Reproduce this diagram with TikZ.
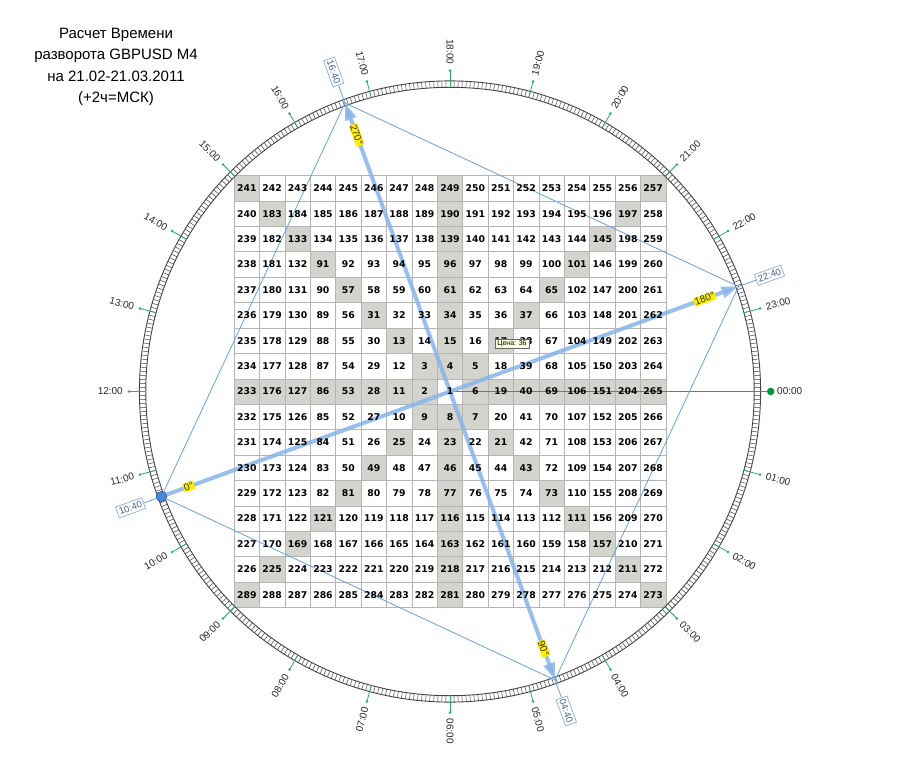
\documentclass[tikz,border=0pt]{standalone}
\usepackage{fontspec}
\setmainfont{Liberation Sans}
\newfontfamily\numfont{DejaVu Sans}
\usetikzlibrary{arrows.meta}
\definecolor{cellgray}{RGB}{212,212,206}
\definecolor{gridline}{RGB}{180,180,180}
\definecolor{bandcol}{RGB}{70,70,70}
\definecolor{tickgreen}{RGB}{40,175,95}
\definecolor{dotgreen}{RGB}{0,150,65}
\definecolor{linegreen}{RGB}{30,170,80}
\definecolor{lineblue}{RGB}{105,160,228}
\definecolor{arrowblue}{RGB}{135,180,232}
\definecolor{labelblue}{RGB}{70,95,145}
\definecolor{boxblue}{RGB}{130,175,230}
\definecolor{hilite}{RGB}{255,238,0}
\definecolor{dotblue}{RGB}{75,135,215}
\definecolor{dotborder}{RGB}{40,90,165}
\definecolor{tipfill}{RGB}{255,255,225}
\tikzset{
  cellbox/.style={draw=gridline, line width=0.6, minimum width=25.4, minimum height=25.4, inner sep=0},
  celltext/.style={inner sep=0, font=\numfont\bfseries\fontsize{9.3}{11}\selectfont},
  hourtick/.style={draw=tickgreen, line width=0.8},
  hourlabel/.style={inner sep=0, font=\fontsize{10}{12}\selectfont, text=black!85},
  thinblue/.style={draw=lineblue, line width=0.8},
  thickarrow/.style={draw=arrowblue, line width=4, opacity=0.85},
  timebox/.style={draw=boxblue, fill=white, line width=0.7, inner xsep=2, inner ysep=0, minimum height=11.5,
    text=labelblue, font=\fontsize{9.5}{11}\selectfont},
  deglabel/.style={fill=hilite, inner sep=0.8, text=black!80, font=\fontsize{10}{11}\selectfont},
  tipbox/.style={draw=black!60, fill=tipfill, line width=0.5, inner xsep=2.5, inner ysep=1.2,
    font=\fontsize{7}{8}\selectfont}
}
\newcommand\spiralval[2]{%
  \pgfmathtruncatemacro\dr{#1-8}%
  \pgfmathtruncatemacro\dc{#2-8}%
  \pgfmathtruncatemacro\kk{max(abs(\dr),abs(\dc))}%
  \pgfmathtruncatemacro\bb{(2*\kk-1)*(2*\kk-1)}%
  \pgfmathtruncatemacro\vv{\kk==0 ? 1 : ((\dc==-\kk && \dr<\kk) ? \bb+\kk-(\dr) : (\dr==-\kk ? \bb+3*\kk+(\dc) : (\dc==\kk ? \bb+5*\kk+(\dr) : \bb+7*\kk-(\dc))))}%
  \pgfmathtruncatemacro\gg{((\dr==0) || (\dc==0) || (abs(\dr)==abs(\dc))) && (\kk>0)}%
}
\begin{document}
\begin{tikzpicture}[x=1pt,y=1pt]
\useasboundingbox (-450,-390.5) rectangle (450,391.5);
% title
\node[align=center, font=\fontsize{15}{21.3}\selectfont] (title) at (-334,324.5)
  {Расчет Времени\\разворота GBPUSD M4\\на 21.02-21.03.2011\\(+2ч=МСК)};
% grid cells
\foreach \rowi in {0,...,16}{
  \foreach \coli in {0,...,16}{
    \spiralval{\rowi}{\coli}
    \ifnum\gg=1 \def\cf{cellgray}\else\def\cf{white}\fi
    \node[cellbox, fill=\cf] (c\rowi-\coli) at ({(\coli-8)*25.4},{(8-\rowi)*25.4}) {};
  }
}
% circular band
\draw[bandcol, line width=0.9] (0,0) circle (304.2);
\draw[bandcol, line width=0.9] (0,0) circle (310.6);
\foreach \i in {0,...,479}{
  \draw[bandcol, line width=0.5] ({\i*0.75}:304.2) -- ({\i*0.75}:310.6);
}
% hour ticks and labels
\foreach \h in {1,...,23}{
  \pgfmathsetmacro\th{-15*\h}
  \draw[hourtick] (\th:304) -- (\th:321);
  \fill[tickgreen] (\th:321) circle (1.4);
  \ifnum\h<7 \def\rot{\th}\def\anc{west}\else
    \ifnum\h>18 \def\rot{\th}\def\anc{west}\else
      \pgfmathsetmacro\rot{\th+180}\def\anc{east}\fi\fi
  \node[hourlabel, rotate=\rot, anchor=\anc] (h\h) at (\th:327) {\ifnum\h<10 0\fi\h:00};
}
% 00:00
\node[circle, fill=dotgreen, inner sep=0, minimum size=7.5] (d0) at (0:320.7) {};
\node[hourlabel, anchor=west] (h0) at (0:327) {00:00};
\draw[draw=linegreen, line width=0.9] (c8-8.center) -- (d0);
% points on circle
\coordinate (p1040) at (200:307);
\coordinate (p1640) at (110:307);
\coordinate (p2240) at (20:307);
\coordinate (p0440) at (-70:307);
% time boxes
\node[timebox, rotate=20] (t1040) at (200:340) {10:40};
\node[timebox, rotate=-70] (t1640) at (110:340) {16:40};
\node[timebox, rotate=20] (t2240) at (20:340) {22:40};
\node[timebox, rotate=-70] (t0440) at (-70:340) {04:40};
\draw[thinblue] (p1040) -- (t1040);
\draw[thinblue] (p1640) -- (t1640);
\draw[thinblue] (p2240) -- (t2240);
\draw[thinblue] (p0440) -- (t0440);
% inscribed square
\draw[thinblue] (p1040) -- (p1640) -- (p2240) -- (p0440) -- cycle;
% thick arrows
\draw[thickarrow, -{Triangle[length=17,width=11]}] (p1040) -- (p2240);
\draw[thickarrow, {Triangle[length=17,width=11]}-{Triangle[length=17,width=11]}] (p1640) -- (p0440);
% cell numbers on top
\foreach \rowi in {0,...,16}{
  \foreach \coli in {0,...,16}{
    \spiralval{\rowi}{\coli}
    \node[celltext] (n\rowi-\coli) at (c\rowi-\coli.center) {\vv};
  }
}
% start dot
\node[circle, fill=dotblue, draw=dotborder, line width=0.6, inner sep=0, minimum size=10.5] (s1040) at (p1040) {};
% degree labels
\node[deglabel, rotate=20] (g0) at (200:278) {0°};
\node[deglabel, rotate=20] (g180) at (20:271) {180°};
\node[deglabel, rotate=-70] (g270) at (110:273) {270°};
\node[deglabel, rotate=-70] (g90) at (-70:273.5) {90°};
% tooltip
\node[tipbox] (tip) at (62,47.7) {Цена: 36};
\end{tikzpicture}
\end{document}
